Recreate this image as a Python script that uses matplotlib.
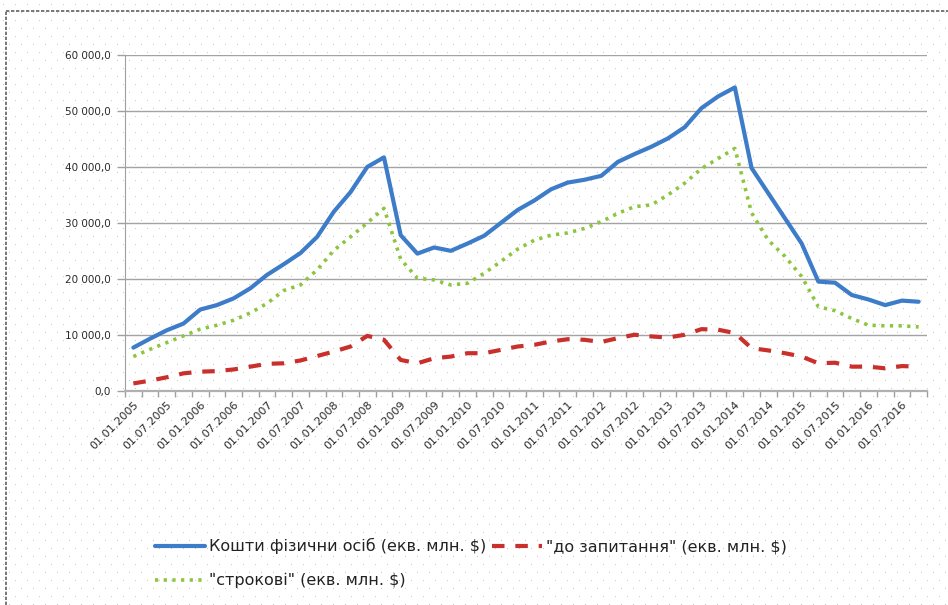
import numpy as np
import matplotlib
matplotlib.use("Agg")
import matplotlib.pyplot as plt
from matplotlib.lines import Line2D
from matplotlib.ticker import FuncFormatter, MultipleLocator

# quarterly values, 01.01.2005 .. 01.10.2016 (екв. млн. $)
total = [7700, 9300, 10800, 12000, 14500, 15300, 16500, 18300, 20700, 22600, 24600, 27500,
         32000, 35500, 40000, 41700, 27800, 24500, 25600, 25000, 26300, 27700, 30000, 32300,
         34000, 36000, 37200, 37700, 38400, 40900, 42300, 43600, 45100, 47100, 50500, 52600,
         54200, 39800, 35300, 30800, 26300, 19500, 19300, 17100, 16300, 15300, 16100, 15900]
demand = [1300, 1800, 2400, 3100, 3400, 3500, 3800, 4300, 4800, 4900, 5400, 6200,
          7000, 7900, 9800, 9100, 5500, 4900, 5800, 6100, 6700, 6700, 7300, 7900,
          8200, 8800, 9200, 9100, 8700, 9400, 10000, 9700, 9500, 10000, 11000, 10900,
          10300, 7600, 7200, 6700, 6100, 4900, 5000, 4300, 4300, 4000, 4400, 4300]
term = [6100, 7400, 8600, 9800, 11000, 11700, 12600, 13900, 15600, 17900, 18900, 21600,
        25100, 27500, 30000, 32600, 23500, 20100, 19800, 18900, 19200, 21000, 23100, 25300,
        26900, 27800, 28200, 29000, 30200, 31700, 32900, 33200, 35000, 37100, 39700, 41500,
        43300, 31800, 26900, 24000, 20400, 15000, 14300, 12900, 11700, 11600, 11600, 11400]

tick_labels = ["01.01.2005", "01.07.2005", "01.01.2006", "01.07.2006", "01.01.2007", "01.07.2007",
               "01.01.2008", "01.07.2008", "01.01.2009", "01.07.2009", "01.01.2010", "01.07.2010",
               "01.01.2011", "01.07.2011", "01.01.2012", "01.07.2012", "01.01.2013", "01.07.2013",
               "01.01.2014", "01.07.2014", "01.01.2015", "01.07.2015", "01.01.2016", "01.07.2016"]

names = ["Кошти фізични осіб (екв. млн. $)", "\"до запитання\" (екв. млн. $)", "\"строкові\" (екв. млн. $)"]

W, H = 948, 605
fig = plt.figure(figsize=(W / 100, H / 100), dpi=100, facecolor="white")

# dotted paper background
bg = np.ones((H, W, 3))
yy, xx = np.mgrid[0:H, 0:W]
dots = ((yy % 16 == 4) & (xx % 12 == 3)) | ((yy % 16 == 12) & (xx % 12 == 9))
bg[dots] = 0.78
bax = fig.add_axes([0, 0, 1, 1], zorder=-10)
bax.imshow(bg, aspect="auto", interpolation="nearest")
bax.axis("off")

# outer border (top + left only visible)
fig.add_artist(Line2D([6 / W, 1], [1 - 11 / H, 1 - 11 / H], color="#606060", lw=1.2, ls=(0, (2, 1))))
fig.add_artist(Line2D([6 / W, 6 / W], [0, 1 - 11 / H], color="#606060", lw=1.2, ls=(0, (2, 1))))

ax = fig.add_axes([125 / W, 1 - 390.7 / H, (927 - 125) / W, (390.7 - 55) / H])
ax.set_facecolor("none")

x = np.arange(len(total))
l1, = ax.plot(x, total, color="#3d7cc9", lw=3, solid_capstyle="round", solid_joinstyle="round")
l2, = ax.plot(x, demand, color="#c9302c", lw=3, ls=(0, (3.0, 2.6)))
l3, = ax.plot(x, term, color="#8cc63f", lw=2.6, ls=(0, (0.9, 1.5)))

ax.set_xlim(-0.5, len(total) - 0.5)
ax.set_ylim(0, 60000)

ax.yaxis.set_major_locator(MultipleLocator(10000))
ax.yaxis.set_major_formatter(FuncFormatter(lambda v, p: "{:,.1f}".format(v).replace(",", " ").replace(".", ",")))
ax.grid(axis="y", color="#a3a3a3", lw=1)
ax.set_axisbelow(True)

ax.set_xticks(np.arange(0, len(total), 2))
ax.set_xticklabels(tick_labels, rotation=45, ha="right", va="top", rotation_mode="anchor")
ax.set_xticks(np.arange(-0.5, len(total), 1), minor=True)
ax.tick_params(axis="x", which="major", length=0, pad=6, labelsize=8, labelcolor="#2a2a2a")
ax.tick_params(axis="x", which="minor", length=4, color="#a0a0a0", width=1)
ax.tick_params(axis="y", length=6, color="#a0a0a0", width=1, labelsize=7.5, labelcolor="#2a2a2a", pad=4)

for s in ["top", "right"]:
    ax.spines[s].set_visible(False)
ax.spines["left"].set_color("#a0a0a0")
ax.spines["bottom"].set_color("#b0b0b0")
ax.spines["bottom"].set_linewidth(1.6)

fig.legend([l1, l3, l2], [names[0], names[2], names[1]], ncol=2, loc="upper left",
           bbox_to_anchor=(155 / W, 1 - 538 / H), frameon=False, fontsize=11.5,
           handlelength=3.1, handletextpad=0.3, columnspacing=0.35, labelspacing=1.2,
           borderpad=0, borderaxespad=0, labelcolor="#222222")

fig.savefig("out.png", dpi=100)
